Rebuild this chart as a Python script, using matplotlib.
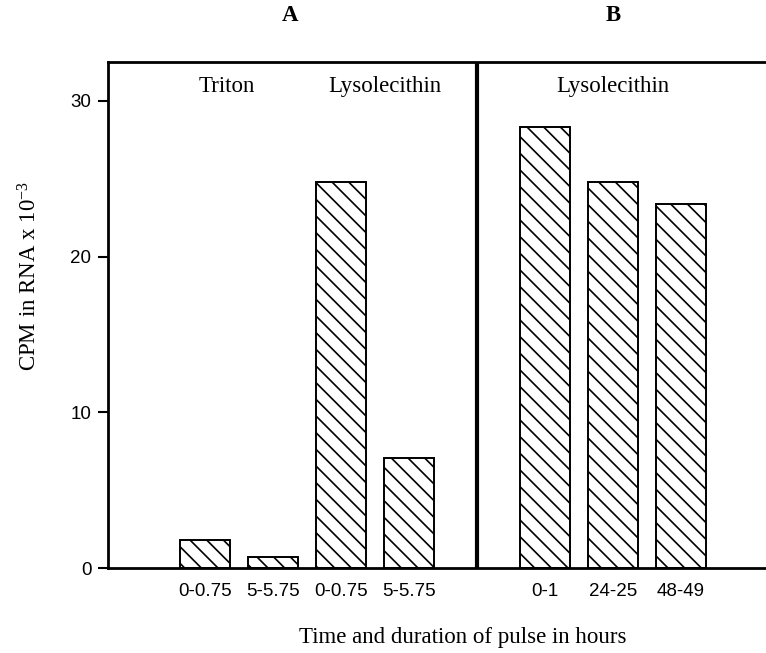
import numpy as np
import matplotlib
matplotlib.use('Agg')
import matplotlib.pyplot as plt

plt.rcParams['hatch.linewidth'] = 1.2
plt.rcParams['mathtext.fontset'] = 'custom'
plt.rcParams['mathtext.rm'] = 'Liberation Serif'
plt.rcParams['mathtext.it'] = 'Liberation Serif:italic'
plt.rcParams['axes.unicode_minus'] = False

SERIF = 'Liberation Serif'
SANS = 'Liberation Sans'

# panel A: Triton and lysolecithin, panel B: lysolecithin only
labels_a = ['0-0.75', '5-5.75', '0-0.75', '5-5.75']
cpm_a = [1.8, 0.7, 24.8, 7.1]
labels_b = ['0-1', '24-25', '48-49']
cpm_b = [28.3, 24.8, 23.4]

pos_a = np.arange(len(labels_a))
pos_b = np.arange(len(labels_b)) + len(labels_a) + 1
divider = len(labels_a)

fig = plt.figure(figsize=(7.66, 6.53), dpi=100)
ax = fig.add_axes([0.141, 0.130, 0.859, 0.775])

ax.bar(pos_a, cpm_a, width=0.735, color='white', edgecolor='black',
       linewidth=1.4, hatch='\\\\')
ax.bar(pos_b, cpm_b, width=0.735, color='white', edgecolor='black',
       linewidth=1.4, hatch='\\\\')

ax.axvline(divider, color='black', lw=3)

ax.set_xlim(-1.43, 8.25)
ax.set_ylim(0, 32.5)

ax.set_yticks([0, 10, 20, 30])
ax.set_yticklabels(['0', '10', '20', '30'], fontfamily=SANS, fontsize=13.5)
ax.set_xticks(np.concatenate([pos_a, pos_b]))
ax.set_xticklabels(labels_a + labels_b, fontfamily=SANS, fontsize=13.5)
ax.tick_params(axis='y', length=7, width=1.5, pad=5)
ax.tick_params(axis='x', length=0, pad=11)

for side in ['left', 'top', 'bottom']:
    ax.spines[side].set_linewidth(2)
ax.spines['right'].set_visible(False)

ax.text(0.32, 30.9, 'Triton', ha='center', va='center',
        fontfamily=SERIF, fontsize=16.5)
ax.text(2.65, 30.9, 'Lysolecithin', ha='center', va='center',
        fontfamily=SERIF, fontsize=16.5)
ax.text(6.0, 30.9, 'Lysolecithin', ha='center', va='center',
        fontfamily=SERIF, fontsize=16.5)

ax.text(1.25, 35.5, 'A', ha='center', va='center', fontfamily=SERIF,
        fontsize=16.5, fontweight='bold', clip_on=False)
ax.text(6.0, 35.5, 'B', ha='center', va='center', fontfamily=SERIF,
        fontsize=16.5, fontweight='bold', clip_on=False)

fig.text(30 / 766, 1 - 276 / 653, r'CPM in RNA x 10$^{-3}$', rotation=90,
         ha='center', va='center', fontfamily=SERIF, fontsize=16.5)
fig.text(463 / 766, 1 - 637 / 653, 'Time and duration of pulse in hours',
         ha='center', va='center', fontfamily=SERIF, fontsize=16.5)

fig.savefig('out.png', dpi=100)
